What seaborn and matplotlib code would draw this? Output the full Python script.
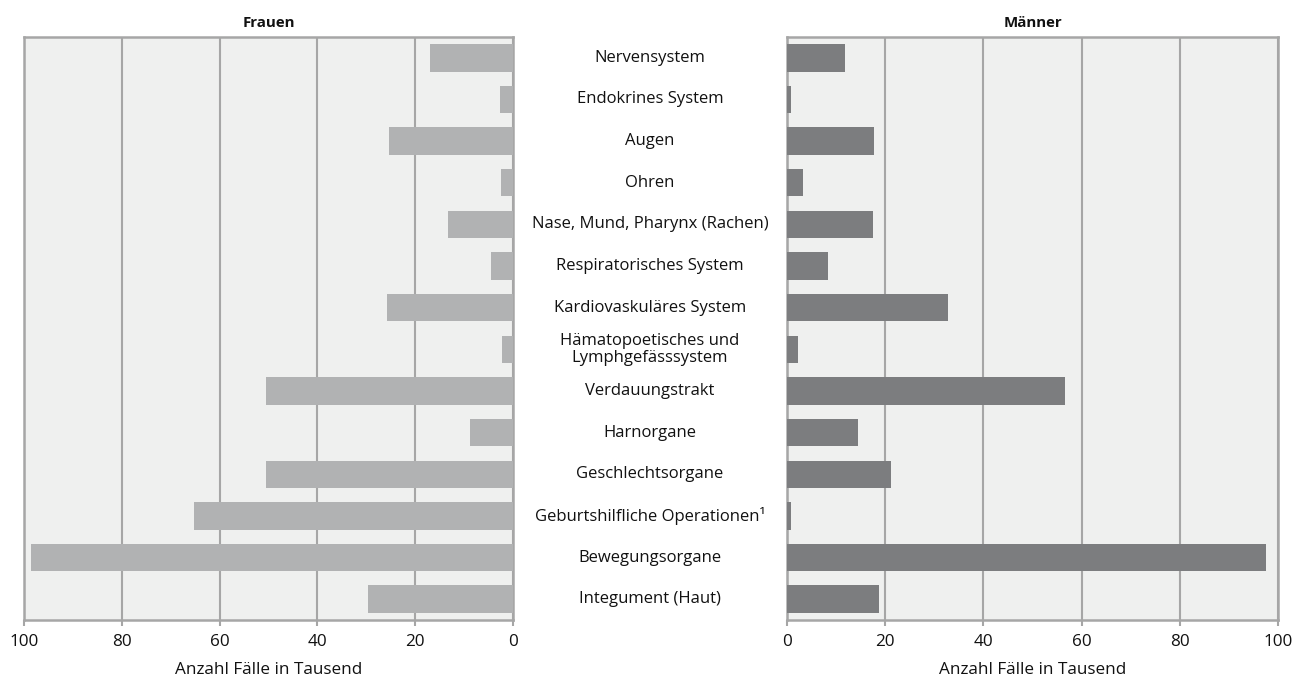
import pandas as pd
import numpy as np
import matplotlib.pyplot as plt
import matplotlib.transforms as mtransforms
import seaborn as sns

# Daten (Anzahl Fälle in Tausend)
categories = [
    'Nervensystem',
    'Endokrines System',
    'Augen',
    'Ohren',
    'Nase, Mund, Pharynx (Rachen)',
    'Respiratorisches System',
    'Kardiovaskuläres System',
    'Hämatopoetisches und\nLymphgefässsystem',
    'Verdauungstrakt',
    'Harnorgane',
    'Geschlechtsorgane',
    'Geburtshilfliche Operationen¹',
    'Bewegungsorgane',
    'Integument (Haut)',
]
frauen = [16.9, 2.7, 25.4, 2.5, 13.3, 4.5, 25.8, 2.3, 50.5, 8.8, 50.5, 65.2, 98.6, 29.6]
maenner = [11.9, 0.9, 17.7, 3.2, 17.6, 8.4, 32.8, 2.3, 56.6, 14.5, 21.2, 0.9, 97.5, 18.8]
ticks = [0, 20, 40, 60, 80, 100]

df = pd.DataFrame({'Bereich': categories, 'Frauen': frauen, 'Männer': maenner})

sns.set_theme(style='white')
plt.rcParams['font.family'] = ['Open Sans', 'DejaVu Sans']
plt.rcParams['text.color'] = '#111111'
plt.rcParams['xtick.color'] = '#111111'
plt.rcParams['axes.labelcolor'] = '#111111'

W, H = 1311, 684
fig = plt.figure(figsize=(W / 100, H / 100), dpi=100)

def px_axes(x0, y0, x1, y1):
    return fig.add_axes([x0 / W, 1 - y1 / H, (x1 - x0) / W, (y1 - y0) / H])

ax_f = px_axes(24, 37, 513, 620)
ax_m = px_axes(787, 37, 1278, 620)

bg = '#eff0ef'
frame = '#a6a6a6'

for ax, col, color in [(ax_f, 'Frauen', '#b1b2b3'), (ax_m, 'Männer', '#7c7d7f')]:
    ax.set_facecolor(bg)
    sns.barplot(data=df, y='Bereich', x=col, color=color, saturation=1,
                width=0.66, linewidth=0, ax=ax, zorder=3)
    ax.set_xlim(0, 100)
    ax.set_ylim(len(categories) - 0.5, -0.5)
    ax.set_xticks(ticks)
    ax.set_yticks([])
    ax.set_ylabel('')
    ax.set_xlabel('Anzahl Fälle in Tausend', fontsize=12.3, labelpad=9)
    ax.grid(axis='x', color=frame, linewidth=1.5, zorder=1)
    ax.set_axisbelow(True)
    for s in ax.spines.values():
        s.set_color(frame)
        s.set_linewidth(1.8)
    ax.tick_params(axis='x', bottom=True, length=4, width=1.5, color=frame,
                   labelsize=12.3, pad=6)
    ax.set_title(col, fontsize=10.8, fontweight='bold', pad=7)

ax_f.invert_xaxis()

# Kategorienbeschriftung in der Mitte
trans = mtransforms.blended_transform_factory(fig.transFigure, ax_f.transData)
xmid = (513 + 787) / 2 / W
for i, cat in enumerate(categories):
    ax_f.text(xmid, i, cat, transform=trans, ha='center', va='center',
              fontsize=12, linespacing=1.1, clip_on=False)

fig.savefig('out.png', dpi=100)
